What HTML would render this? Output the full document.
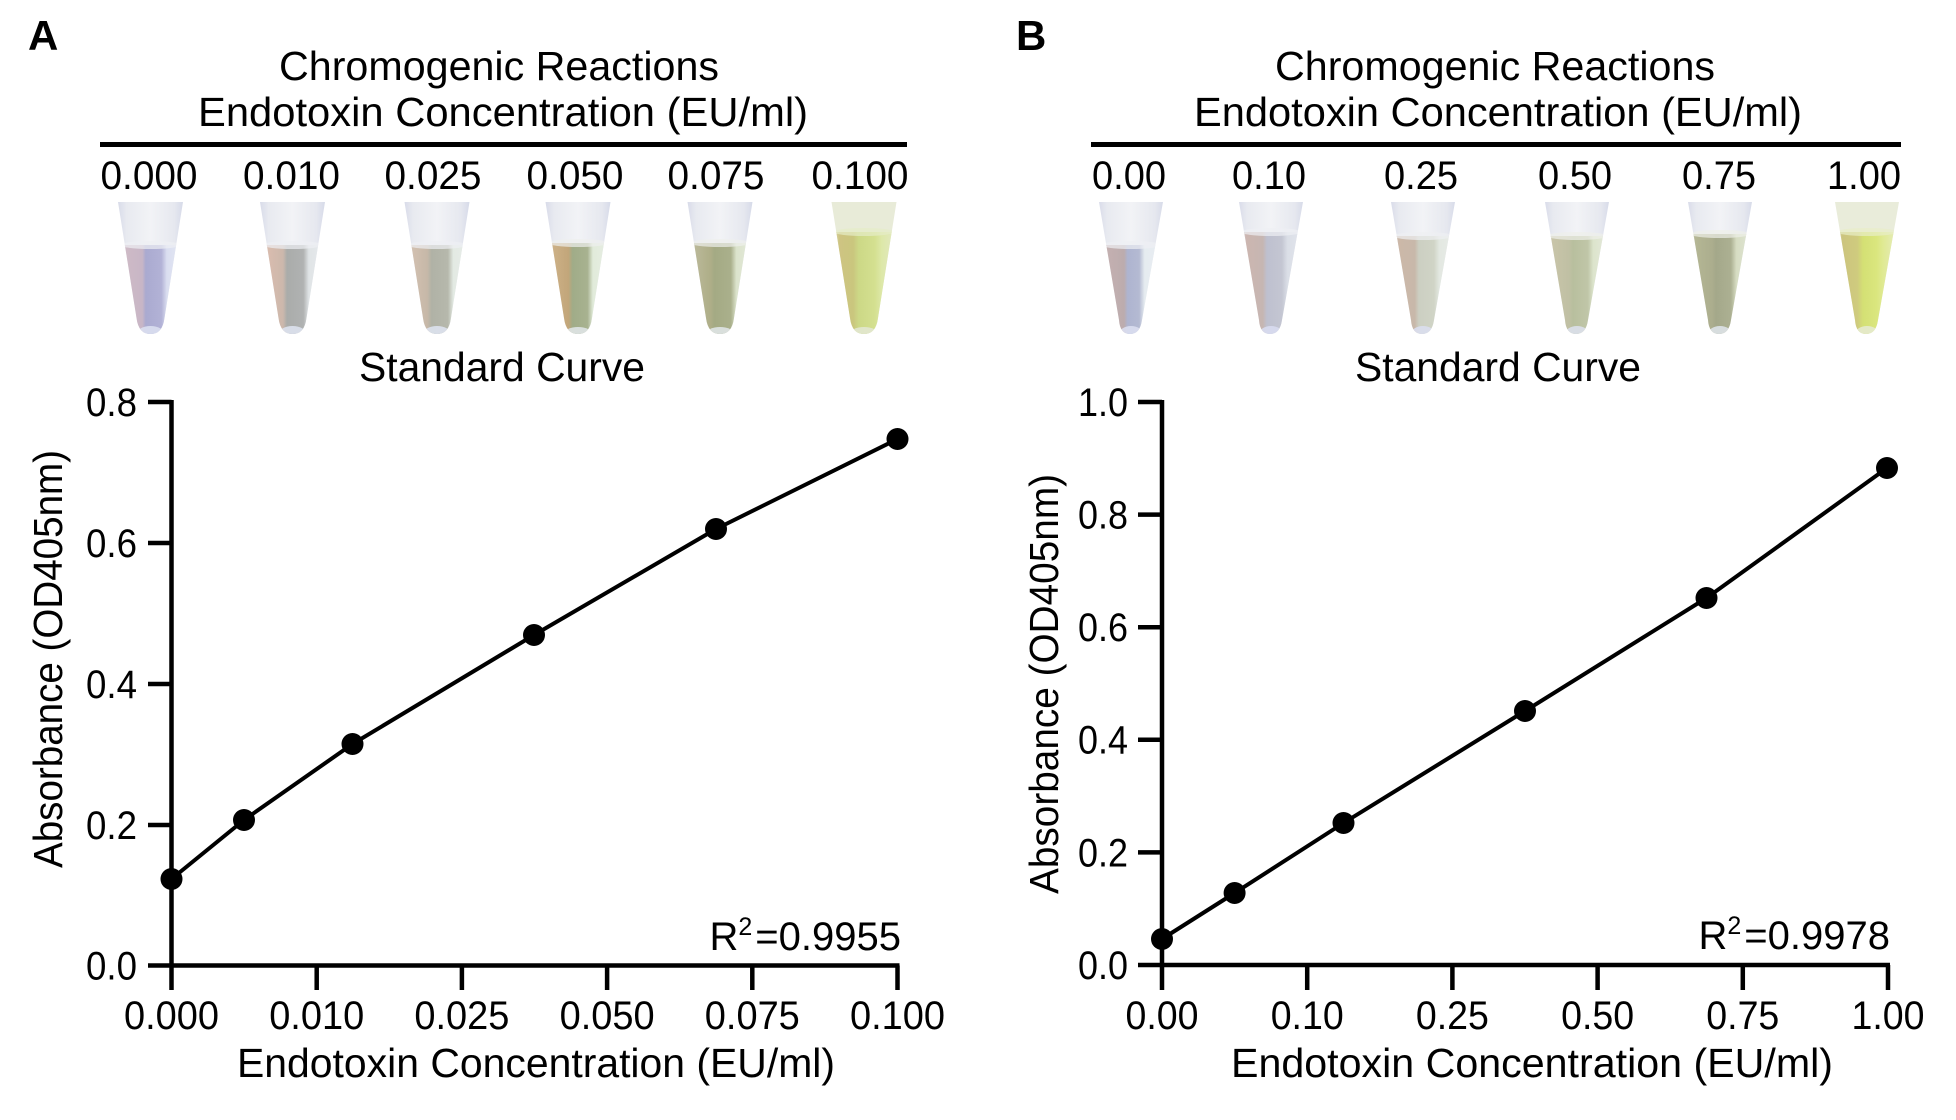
<!DOCTYPE html>
<html>
<head>
<meta charset="utf-8">
<style>
html,body{margin:0;padding:0;background:#fff;}
svg{display:block;}
text{font-family:"Liberation Sans",sans-serif;fill:#000;}
</style>
</head>
<body>
<svg width="1956" height="1120" viewBox="0 0 1956 1120" xmlns="http://www.w3.org/2000/svg">
<defs>
  <clipPath id="tA" clipPathUnits="userSpaceOnUse">
    <path d="M-32.5,202 L32.5,202 L14,318 Q12,334 0,334 Q-12,334 -14,318 Z"/>
  </clipPath>
  <clipPath id="tB" clipPathUnits="userSpaceOnUse">
    <path d="M-32,202 L32,202 L11,320 Q9,334 -1,334 Q-11,334 -12,320 Z"/>
  </clipPath>
  <linearGradient id="cap" x1="0" y1="0" x2="1" y2="0">
    <stop offset="0" stop-color="#d6d9e8"/>
    <stop offset="0.15" stop-color="#e8eaf0"/>
    <stop offset="0.5" stop-color="#f2f3f6"/>
    <stop offset="0.85" stop-color="#e6e8ef"/>
    <stop offset="1" stop-color="#d4d8e8"/>
  </linearGradient>
  <linearGradient id="lA1" x1="0" y1="0" x2="1" y2="0">
    <stop offset="0" stop-color="#dadeee"/><stop offset="0.14" stop-color="#cebac6"/><stop offset="0.38" stop-color="#c8b6c6"/>
    <stop offset="0.43" stop-color="#aaaad0"/><stop offset="0.66" stop-color="#b2b2d6"/><stop offset="0.74" stop-color="#dadef0"/><stop offset="1" stop-color="#e6e9f3"/>
  </linearGradient>
  <linearGradient id="lA2" x1="0" y1="0" x2="1" y2="0">
    <stop offset="0" stop-color="#dfe3e9"/><stop offset="0.14" stop-color="#d9bcae"/><stop offset="0.36" stop-color="#ccb8ac"/>
    <stop offset="0.42" stop-color="#aaacaa"/><stop offset="0.66" stop-color="#b0b2b2"/><stop offset="0.74" stop-color="#e0e4e6"/><stop offset="1" stop-color="#e8ebef"/>
  </linearGradient>
  <linearGradient id="lA3" x1="0" y1="0" x2="1" y2="0">
    <stop offset="0" stop-color="#dfe3e6"/><stop offset="0.14" stop-color="#d2c0b0"/><stop offset="0.36" stop-color="#c6b8a8"/>
    <stop offset="0.42" stop-color="#b0b2a6"/><stop offset="0.66" stop-color="#b6b8ac"/><stop offset="0.74" stop-color="#e3eae3"/><stop offset="1" stop-color="#e8ecea"/>
  </linearGradient>
  <linearGradient id="lA4" x1="0" y1="0" x2="1" y2="0">
    <stop offset="0" stop-color="#e0e5de"/><stop offset="0.14" stop-color="#ccb086"/><stop offset="0.36" stop-color="#c2a67a"/>
    <stop offset="0.42" stop-color="#a0ac88"/><stop offset="0.64" stop-color="#a8b290"/><stop offset="0.72" stop-color="#e1ebda"/><stop offset="1" stop-color="#e8ede6"/>
  </linearGradient>
  <linearGradient id="lA5" x1="0" y1="0" x2="1" y2="0">
    <stop offset="0" stop-color="#dfe5da"/><stop offset="0.14" stop-color="#bab898"/><stop offset="0.36" stop-color="#aeae88"/>
    <stop offset="0.42" stop-color="#a4aa84"/><stop offset="0.66" stop-color="#aab08c"/><stop offset="0.74" stop-color="#dbe3cc"/><stop offset="1" stop-color="#e6ebde"/>
  </linearGradient>
  <linearGradient id="lA6" x1="0" y1="0" x2="1" y2="0">
    <stop offset="0" stop-color="#dfe5cc"/><stop offset="0.14" stop-color="#cec482"/><stop offset="0.34" stop-color="#cac67e"/>
    <stop offset="0.42" stop-color="#ccd886"/><stop offset="0.66" stop-color="#d4e090"/><stop offset="0.76" stop-color="#dde8a8"/><stop offset="1" stop-color="#e4e9c8"/>
  </linearGradient>
  <linearGradient id="lB1" x1="0" y1="0" x2="1" y2="0">
    <stop offset="0" stop-color="#dee2ec"/><stop offset="0.14" stop-color="#c4b0b0"/><stop offset="0.40" stop-color="#bcacae"/>
    <stop offset="0.45" stop-color="#aeb4d0"/><stop offset="0.62" stop-color="#b4bad2"/><stop offset="0.70" stop-color="#e6ecf0"/><stop offset="1" stop-color="#e9edf3"/>
  </linearGradient>
  <linearGradient id="lB2" x1="0" y1="0" x2="1" y2="0">
    <stop offset="0" stop-color="#dee1e9"/><stop offset="0.14" stop-color="#ccb6b0"/><stop offset="0.38" stop-color="#c6b6b2"/>
    <stop offset="0.44" stop-color="#bec0cf"/><stop offset="0.66" stop-color="#c4c6d2"/><stop offset="0.74" stop-color="#dadee6"/><stop offset="1" stop-color="#e5e7ef"/>
  </linearGradient>
  <linearGradient id="lB3" x1="0" y1="0" x2="1" y2="0">
    <stop offset="0" stop-color="#e1e5e5"/><stop offset="0.14" stop-color="#ccb8a8"/><stop offset="0.38" stop-color="#c8b8aa"/>
    <stop offset="0.44" stop-color="#cccfc2"/><stop offset="0.66" stop-color="#d0d4c6"/><stop offset="0.74" stop-color="#e3e8e1"/><stop offset="1" stop-color="#e9ecea"/>
  </linearGradient>
  <linearGradient id="lB4" x1="0" y1="0" x2="1" y2="0">
    <stop offset="0" stop-color="#e1e6dd"/><stop offset="0.14" stop-color="#c8c4a8"/><stop offset="0.38" stop-color="#c0c0a4"/>
    <stop offset="0.44" stop-color="#b8bf9e"/><stop offset="0.66" stop-color="#c0c6a8"/><stop offset="0.74" stop-color="#dce4cc"/><stop offset="1" stop-color="#e7eadf"/>
  </linearGradient>
  <linearGradient id="lB5" x1="0" y1="0" x2="1" y2="0">
    <stop offset="0" stop-color="#e0e5d6"/><stop offset="0.14" stop-color="#b4b694"/><stop offset="0.38" stop-color="#acae8e"/>
    <stop offset="0.44" stop-color="#a4a88a"/><stop offset="0.66" stop-color="#acb092"/><stop offset="0.74" stop-color="#d6dcc2"/><stop offset="1" stop-color="#e3e8da"/>
  </linearGradient>
  <linearGradient id="lB6" x1="0" y1="0" x2="1" y2="0">
    <stop offset="0" stop-color="#e3e8c4"/><stop offset="0.14" stop-color="#ccc47e"/><stop offset="0.36" stop-color="#cfcb7e"/>
    <stop offset="0.44" stop-color="#d4e074"/><stop offset="0.64" stop-color="#dae67e"/><stop offset="0.74" stop-color="#e0ea94"/><stop offset="1" stop-color="#e7ecc8"/>
  </linearGradient>
</defs>

<!-- ================= PANEL A ================= -->
<text x="28" y="50" font-size="42" font-weight="bold">A</text>
<text x="499" y="80" font-size="41" text-anchor="middle" textLength="440" lengthAdjust="spacingAndGlyphs">Chromogenic Reactions</text>
<text x="503" y="126" font-size="41" text-anchor="middle" textLength="610" lengthAdjust="spacingAndGlyphs">Endotoxin Concentration (EU/ml)</text>
<rect x="100" y="142" width="807" height="5" fill="#000"/>
<g font-size="40" text-anchor="middle">
  <text x="149" y="189" textLength="97" lengthAdjust="spacingAndGlyphs">0.000</text>
  <text x="291.5" y="189" textLength="97" lengthAdjust="spacingAndGlyphs">0.010</text>
  <text x="433" y="189" textLength="97" lengthAdjust="spacingAndGlyphs">0.025</text>
  <text x="575" y="189" textLength="97" lengthAdjust="spacingAndGlyphs">0.050</text>
  <text x="716" y="189" textLength="97" lengthAdjust="spacingAndGlyphs">0.075</text>
  <text x="860" y="189" textLength="97" lengthAdjust="spacingAndGlyphs">0.100</text>
</g>

<g transform="translate(150.5,0)"><g clip-path="url(#tA)">
  <rect x="-34" y="200" width="68" height="140" fill="url(#cap)"/>
  <rect x="-34" y="245" width="68" height="95" fill="url(#lA1)"/>
  <ellipse cx="0" cy="245" rx="30" ry="4" fill="#eef0f4" opacity="0.7"/>
  <ellipse cx="0" cy="334" rx="14" ry="8" fill="#dadfef" opacity="0.9"/>
</g></g>
<g transform="translate(292.5,0)"><g clip-path="url(#tA)">
  <rect x="-34" y="200" width="68" height="140" fill="url(#cap)"/>
  <rect x="-34" y="245" width="68" height="95" fill="url(#lA2)"/>
  <ellipse cx="0" cy="245" rx="30" ry="4" fill="#eef0f4" opacity="0.7"/>
  <ellipse cx="0" cy="334" rx="14" ry="8" fill="#dde2ee" opacity="0.9"/>
</g></g>
<g transform="translate(437,0)"><g clip-path="url(#tA)">
  <rect x="-34" y="200" width="68" height="140" fill="url(#cap)"/>
  <rect x="-34" y="245" width="68" height="95" fill="url(#lA3)"/>
  <ellipse cx="0" cy="245" rx="30" ry="4" fill="#eef0f4" opacity="0.7"/>
  <ellipse cx="0" cy="334" rx="14" ry="8" fill="#dde2ee" opacity="0.9"/>
</g></g>
<g transform="translate(578,0)"><g clip-path="url(#tA)">
  <rect x="-34" y="200" width="68" height="140" fill="url(#cap)"/>
  <rect x="-34" y="243" width="68" height="97" fill="url(#lA4)"/>
  <ellipse cx="0" cy="243" rx="30" ry="4" fill="#eef0ee" opacity="0.7"/>
  <ellipse cx="0" cy="334" rx="14" ry="7" fill="#dfe4e6" opacity="0.9"/>
</g></g>
<g transform="translate(720,0)"><g clip-path="url(#tA)">
  <rect x="-34" y="200" width="68" height="140" fill="url(#cap)"/>
  <rect x="-34" y="243" width="68" height="97" fill="url(#lA5)"/>
  <ellipse cx="0" cy="243" rx="30" ry="4" fill="#eef0ec" opacity="0.7"/>
  <ellipse cx="0" cy="334" rx="14" ry="7" fill="#dfe4e6" opacity="0.9"/>
</g></g>
<g transform="translate(864,0)"><g clip-path="url(#tA)">
  <rect x="-34" y="200" width="68" height="140" fill="#e8ebd8"/>
  <rect x="-34" y="232" width="68" height="108" fill="url(#lA6)"/>
  <ellipse cx="0" cy="232" rx="30" ry="4" fill="#e6ecc8" opacity="0.7"/>
  <ellipse cx="0" cy="334" rx="14" ry="7" fill="#e2e7d0" opacity="0.9"/>
</g></g>

<text x="502" y="381" font-size="41" text-anchor="middle" textLength="286" lengthAdjust="spacingAndGlyphs">Standard Curve</text>

<g stroke="#000" stroke-width="4.5" fill="none">
  <line x1="171.5" y1="400" x2="171.5" y2="990"/>
  <line x1="148" y1="965.5" x2="899.5" y2="965.5"/>
  <line x1="148" y1="402" x2="171.5" y2="402"/>
  <line x1="148" y1="543" x2="171.5" y2="543"/>
  <line x1="148" y1="684" x2="171.5" y2="684"/>
  <line x1="148" y1="825" x2="171.5" y2="825"/>
  <line x1="316.7" y1="965.5" x2="316.7" y2="990"/>
  <line x1="461.9" y1="965.5" x2="461.9" y2="990"/>
  <line x1="607.1" y1="965.5" x2="607.1" y2="990"/>
  <line x1="752.3" y1="965.5" x2="752.3" y2="990"/>
  <line x1="897.5" y1="965.5" x2="897.5" y2="990"/>
</g>
<g font-size="40" text-anchor="end">
  <text x="137" y="416" textLength="51" lengthAdjust="spacingAndGlyphs">0.8</text>
  <text x="137" y="557" textLength="51" lengthAdjust="spacingAndGlyphs">0.6</text>
  <text x="137" y="698" textLength="51" lengthAdjust="spacingAndGlyphs">0.4</text>
  <text x="137" y="839" textLength="51" lengthAdjust="spacingAndGlyphs">0.2</text>
  <text x="137" y="979.5" textLength="51" lengthAdjust="spacingAndGlyphs">0.0</text>
</g>
<g font-size="40" text-anchor="middle">
  <text x="171.5" y="1029" textLength="95" lengthAdjust="spacingAndGlyphs">0.000</text>
  <text x="316.7" y="1029" textLength="95" lengthAdjust="spacingAndGlyphs">0.010</text>
  <text x="461.9" y="1029" textLength="95" lengthAdjust="spacingAndGlyphs">0.025</text>
  <text x="607.1" y="1029" textLength="95" lengthAdjust="spacingAndGlyphs">0.050</text>
  <text x="752.3" y="1029" textLength="95" lengthAdjust="spacingAndGlyphs">0.075</text>
  <text x="897.5" y="1029" textLength="95" lengthAdjust="spacingAndGlyphs">0.100</text>
</g>
<text x="536" y="1077" font-size="41" text-anchor="middle" textLength="598" lengthAdjust="spacingAndGlyphs">Endotoxin Concentration (EU/ml)</text>
<text transform="translate(62,659) rotate(-90)" x="0" y="0" font-size="41" text-anchor="middle" textLength="418" lengthAdjust="spacingAndGlyphs">Absorbance (OD405nm)</text>

<polyline points="171.5,879 244,820 352.5,744 534,635 716,529 897.5,439" fill="none" stroke="#000" stroke-width="4" stroke-linejoin="round"/>
<g fill="#000">
  <circle cx="171.5" cy="879" r="11"/>
  <circle cx="244" cy="820" r="11"/>
  <circle cx="352.5" cy="744" r="11"/>
  <circle cx="534" cy="635" r="11"/>
  <circle cx="716" cy="529" r="11"/>
  <circle cx="897.5" cy="439" r="11"/>
</g>
<text x="901" y="950" font-size="40" text-anchor="end">R<tspan font-size="25" dy="-15">2</tspan><tspan dy="15" dx="3">=0.9955</tspan></text>

<!-- ================= PANEL B ================= -->
<text x="1016" y="50" font-size="42" font-weight="bold">B</text>
<text x="1495" y="80" font-size="41" text-anchor="middle" textLength="440" lengthAdjust="spacingAndGlyphs">Chromogenic Reactions</text>
<text x="1498" y="126" font-size="41" text-anchor="middle" textLength="608" lengthAdjust="spacingAndGlyphs">Endotoxin Concentration (EU/ml)</text>
<rect x="1091" y="142" width="810" height="5" fill="#000"/>
<g font-size="40" text-anchor="middle">
  <text x="1129" y="189" textLength="74" lengthAdjust="spacingAndGlyphs">0.00</text>
  <text x="1269" y="189" textLength="74" lengthAdjust="spacingAndGlyphs">0.10</text>
  <text x="1421" y="189" textLength="74" lengthAdjust="spacingAndGlyphs">0.25</text>
  <text x="1575" y="189" textLength="74" lengthAdjust="spacingAndGlyphs">0.50</text>
  <text x="1719" y="189" textLength="74" lengthAdjust="spacingAndGlyphs">0.75</text>
  <text x="1864" y="189" textLength="74" lengthAdjust="spacingAndGlyphs">1.00</text>
</g>

<g transform="translate(1131,0)"><g clip-path="url(#tB)">
  <rect x="-34" y="200" width="68" height="140" fill="url(#cap)"/>
  <rect x="-34" y="245" width="68" height="95" fill="url(#lB1)"/>
  <ellipse cx="0" cy="245" rx="30" ry="4" fill="#eef0f4" opacity="0.7"/>
  <ellipse cx="0" cy="334" rx="12" ry="8" fill="#dadeef" opacity="0.9"/>
</g></g>
<g transform="translate(1271,0)"><g clip-path="url(#tB)">
  <rect x="-34" y="200" width="68" height="140" fill="url(#cap)"/>
  <rect x="-34" y="232" width="68" height="108" fill="url(#lB2)"/>
  <ellipse cx="0" cy="232" rx="30" ry="4" fill="#eef0f4" opacity="0.7"/>
  <ellipse cx="0" cy="334" rx="12" ry="8" fill="#d8dcef" opacity="0.9"/>
</g></g>
<g transform="translate(1423,0)"><g clip-path="url(#tB)">
  <rect x="-34" y="200" width="68" height="140" fill="url(#cap)"/>
  <rect x="-34" y="236" width="68" height="104" fill="url(#lB3)"/>
  <ellipse cx="0" cy="236" rx="30" ry="4" fill="#eef0f2" opacity="0.7"/>
  <ellipse cx="0" cy="334" rx="12" ry="8" fill="#dadeee" opacity="0.9"/>
</g></g>
<g transform="translate(1577,0)"><g clip-path="url(#tB)">
  <rect x="-34" y="200" width="68" height="140" fill="url(#cap)"/>
  <rect x="-34" y="236" width="68" height="104" fill="url(#lB4)"/>
  <ellipse cx="0" cy="236" rx="30" ry="4" fill="#eef0ea" opacity="0.7"/>
  <ellipse cx="0" cy="334" rx="12" ry="8" fill="#dce0eb" opacity="0.9"/>
</g></g>
<g transform="translate(1720,0)"><g clip-path="url(#tB)">
  <rect x="-34" y="200" width="68" height="140" fill="url(#cap)"/>
  <rect x="-34" y="234" width="68" height="106" fill="url(#lB5)"/>
  <ellipse cx="0" cy="234" rx="30" ry="4" fill="#eef0e8" opacity="0.7"/>
  <ellipse cx="0" cy="334" rx="12" ry="8" fill="#dde2e7" opacity="0.9"/>
</g></g>
<g transform="translate(1867,0)"><g clip-path="url(#tB)">
  <rect x="-34" y="200" width="68" height="140" fill="#e9ecda"/>
  <rect x="-34" y="232" width="68" height="108" fill="url(#lB6)"/>
  <ellipse cx="0" cy="232" rx="30" ry="4" fill="#e8eec8" opacity="0.7"/>
  <ellipse cx="0" cy="334" rx="12" ry="8" fill="#e5eacf" opacity="0.9"/>
</g></g>

<text x="1498" y="381" font-size="41" text-anchor="middle" textLength="286" lengthAdjust="spacingAndGlyphs">Standard Curve</text>

<g stroke="#000" stroke-width="4.5" fill="none">
  <line x1="1162" y1="400" x2="1162" y2="990"/>
  <line x1="1138" y1="965" x2="1890" y2="965"/>
  <line x1="1138" y1="402" x2="1162" y2="402"/>
  <line x1="1138" y1="514.6" x2="1162" y2="514.6"/>
  <line x1="1138" y1="627.2" x2="1162" y2="627.2"/>
  <line x1="1138" y1="739.8" x2="1162" y2="739.8"/>
  <line x1="1138" y1="852.4" x2="1162" y2="852.4"/>
  <line x1="1307.2" y1="965" x2="1307.2" y2="990"/>
  <line x1="1452.4" y1="965" x2="1452.4" y2="990"/>
  <line x1="1597.6" y1="965" x2="1597.6" y2="990"/>
  <line x1="1742.8" y1="965" x2="1742.8" y2="990"/>
  <line x1="1888" y1="965" x2="1888" y2="990"/>
</g>
<g font-size="40" text-anchor="end">
  <text x="1128" y="416" textLength="50" lengthAdjust="spacingAndGlyphs">1.0</text>
  <text x="1128" y="528.5" textLength="50" lengthAdjust="spacingAndGlyphs">0.8</text>
  <text x="1128" y="641" textLength="50" lengthAdjust="spacingAndGlyphs">0.6</text>
  <text x="1128" y="753.5" textLength="50" lengthAdjust="spacingAndGlyphs">0.4</text>
  <text x="1128" y="866.5" textLength="50" lengthAdjust="spacingAndGlyphs">0.2</text>
  <text x="1128" y="979" textLength="50" lengthAdjust="spacingAndGlyphs">0.0</text>
</g>
<g font-size="40" text-anchor="middle">
  <text x="1162" y="1029" textLength="73" lengthAdjust="spacingAndGlyphs">0.00</text>
  <text x="1307.2" y="1029" textLength="73" lengthAdjust="spacingAndGlyphs">0.10</text>
  <text x="1452.4" y="1029" textLength="73" lengthAdjust="spacingAndGlyphs">0.25</text>
  <text x="1597.6" y="1029" textLength="73" lengthAdjust="spacingAndGlyphs">0.50</text>
  <text x="1742.8" y="1029" textLength="73" lengthAdjust="spacingAndGlyphs">0.75</text>
  <text x="1888" y="1029" textLength="73" lengthAdjust="spacingAndGlyphs">1.00</text>
</g>
<text x="1532" y="1077" font-size="41" text-anchor="middle" textLength="602" lengthAdjust="spacingAndGlyphs">Endotoxin Concentration (EU/ml)</text>
<text transform="translate(1058,684) rotate(-90)" x="0" y="0" font-size="41" text-anchor="middle" textLength="420" lengthAdjust="spacingAndGlyphs">Absorbance (OD405nm)</text>

<polyline points="1162,939 1234.6,893 1343.5,823 1525,711 1706.5,598 1887,468" fill="none" stroke="#000" stroke-width="4" stroke-linejoin="round"/>
<g fill="#000">
  <circle cx="1162" cy="939" r="11"/>
  <circle cx="1234.6" cy="893" r="11"/>
  <circle cx="1343.5" cy="823" r="11"/>
  <circle cx="1525" cy="711" r="11"/>
  <circle cx="1706.5" cy="598" r="11"/>
  <circle cx="1887" cy="468" r="11"/>
</g>
<text x="1890" y="949" font-size="40" text-anchor="end">R<tspan font-size="25" dy="-15">2</tspan><tspan dy="15" dx="3">=0.9978</tspan></text>
</svg>
</body>
</html>
